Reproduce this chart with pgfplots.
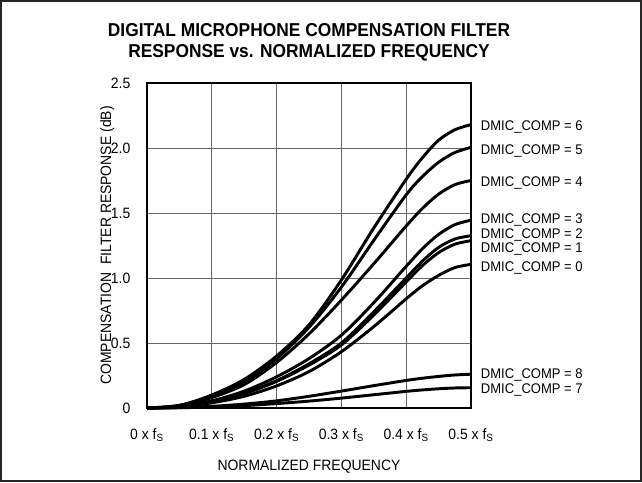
\documentclass[border=0pt]{standalone}
\usepackage{fontspec}
\setmainfont{Liberation Sans}[FakeStretch=0.93]
\usepackage{pgfplots}
\pgfplotsset{compat=1.18}
\pgfplotsset{curve/.style={black, solid, line width=2.2pt, smooth, mark=none}}
\begin{document}
\begin{tikzpicture}
\useasboundingbox (-110.25pt,-55.5pt) rectangle (371.25pt,306pt);
\begin{axis}[
  at={(0,0)}, anchor=south west,
  width=243pt, height=243.75pt, scale only axis,
  xmin=0, xmax=0.5, ymin=0, ymax=2.5,
  xtick={0,0.1,0.2,0.3,0.4,0.5},
  xticklabels={0 x f\textsubscript{S},0.1 x f\textsubscript{S},0.2 x f\textsubscript{S},0.3 x f\textsubscript{S},0.4 x f\textsubscript{S},0.5 x f\textsubscript{S}},
  ytick={0,0.5,1,1.5,2,2.5},
  yticklabels={0,0.5,1.0,1.5,2.0,2.5},
  major tick length=0pt,
  grid=major,
  major grid style={draw=black!60, line width=0.75pt},
  axis line style={line width=1.8pt},
  ticklabel style={font=\fontsize{11.25}{13}\selectfont},
  xticklabel style={yshift=-12pt},
  yticklabel style={xshift=-9pt},
  xlabel={NORMALIZED FREQUENCY},
  xlabel style={at={(axis description cs:0.5,-0.1908)}, anchor=base, inner sep=0pt, font=\fontsize{11.25}{13}\selectfont},
  ylabel={COMPENSATION\ \ FILTER RESPONSE (dB)},
  ylabel style={at={(axis description cs:-0.111,0.5)}, anchor=base, inner sep=0pt, font=\fontsize{11.25}{13}\selectfont},
  title={DIGITAL MICROPHONE COMPENSATION FILTER\\RESPONSE vs. NORMALIZED FREQUENCY},
  title style={at={(axis description cs:0.5,1.0431)}, anchor=south, inner sep=0pt, align=center, font=\fontsize{14}{15.75}\selectfont\bfseries},
  clip=false,
]
% DMIC_COMP = 6
\addplot[curve] coordinates {(0,0)(0.05,0.02)(0.1,0.10)(0.15,0.22)(0.2,0.40)(0.25,0.64)(0.3,0.985)(0.35,1.385)(0.4,1.76)(0.425,1.925)(0.45,2.06)(0.475,2.14)(0.5,2.18)};
% DMIC_COMP = 5
\addplot[curve] coordinates {(0,0)(0.05,0.02)(0.1,0.09)(0.15,0.20)(0.2,0.38)(0.25,0.62)(0.3,0.93)(0.35,1.29)(0.4,1.64)(0.425,1.78)(0.45,1.89)(0.475,1.965)(0.5,2.005)};
% DMIC_COMP = 4
\addplot[curve] coordinates {(0,0)(0.05,0.015)(0.1,0.08)(0.15,0.18)(0.2,0.35)(0.25,0.57)(0.3,0.83)(0.35,1.11)(0.4,1.40)(0.425,1.535)(0.45,1.645)(0.475,1.718)(0.5,1.75)};
% DMIC_COMP = 3
\addplot[curve] coordinates {(0,0)(0.05,0.012)(0.1,0.055)(0.15,0.13)(0.2,0.24)(0.25,0.38)(0.3,0.56)(0.35,0.81)(0.4,1.09)(0.425,1.225)(0.45,1.335)(0.475,1.41)(0.5,1.445)};
% DMIC_COMP = 2
\addplot[curve] coordinates {(0,0)(0.05,0.01)(0.1,0.05)(0.15,0.115)(0.2,0.21)(0.25,0.34)(0.3,0.50)(0.35,0.74)(0.4,1.00)(0.425,1.13)(0.45,1.235)(0.475,1.30)(0.5,1.325)};
% DMIC_COMP = 1
\addplot[curve] coordinates {(0,0)(0.05,0.01)(0.1,0.05)(0.15,0.11)(0.2,0.205)(0.25,0.33)(0.3,0.485)(0.35,0.715)(0.4,0.97)(0.425,1.095)(0.45,1.195)(0.475,1.26)(0.5,1.287)};
% DMIC_COMP = 0
\addplot[curve] coordinates {(0,0)(0.05,0.008)(0.1,0.04)(0.15,0.09)(0.2,0.17)(0.25,0.28)(0.3,0.433)(0.35,0.626)(0.4,0.84)(0.425,0.94)(0.45,1.02)(0.475,1.08)(0.5,1.105)};
% DMIC_COMP = 8
\addplot[curve] coordinates {(0,0)(0.05,0.003)(0.1,0.013)(0.15,0.03)(0.2,0.055)(0.25,0.09)(0.3,0.13)(0.35,0.172)(0.4,0.212)(0.425,0.229)(0.45,0.243)(0.475,0.254)(0.5,0.26)};
% DMIC_COMP = 7
\addplot[curve] coordinates {(0,0)(0.05,0.002)(0.1,0.008)(0.15,0.018)(0.2,0.034)(0.25,0.053)(0.3,0.076)(0.35,0.102)(0.4,0.128)(0.425,0.139)(0.45,0.148)(0.475,0.154)(0.5,0.156)};
\begin{scope}[every node/.style={anchor=base west, inner sep=0pt, xshift=7.3pt, yshift=-3.75pt, font=\fontsize{10.5}{12}\selectfont}]
\node at (axis cs:0.5,2.172) {DMIC\_COMP = 6};
\node at (axis cs:0.5,1.985) {DMIC\_COMP = 5};
\node at (axis cs:0.5,1.746) {DMIC\_COMP = 4};
\node at (axis cs:0.5,1.459) {DMIC\_COMP = 3};
\node at (axis cs:0.5,1.344) {DMIC\_COMP = 2};
\node at (axis cs:0.5,1.233) {DMIC\_COMP = 1};
\node at (axis cs:0.5,1.087) {DMIC\_COMP = 0};
\node at (axis cs:0.5,0.267) {DMIC\_COMP = 8};
\node at (axis cs:0.5,0.151) {DMIC\_COMP = 7};
\end{scope}
\end{axis}
\draw[line width=1.2pt, black!85] (-109.5pt,-54.75pt) rectangle (370.5pt,305.25pt);
\end{tikzpicture}
\end{document}
